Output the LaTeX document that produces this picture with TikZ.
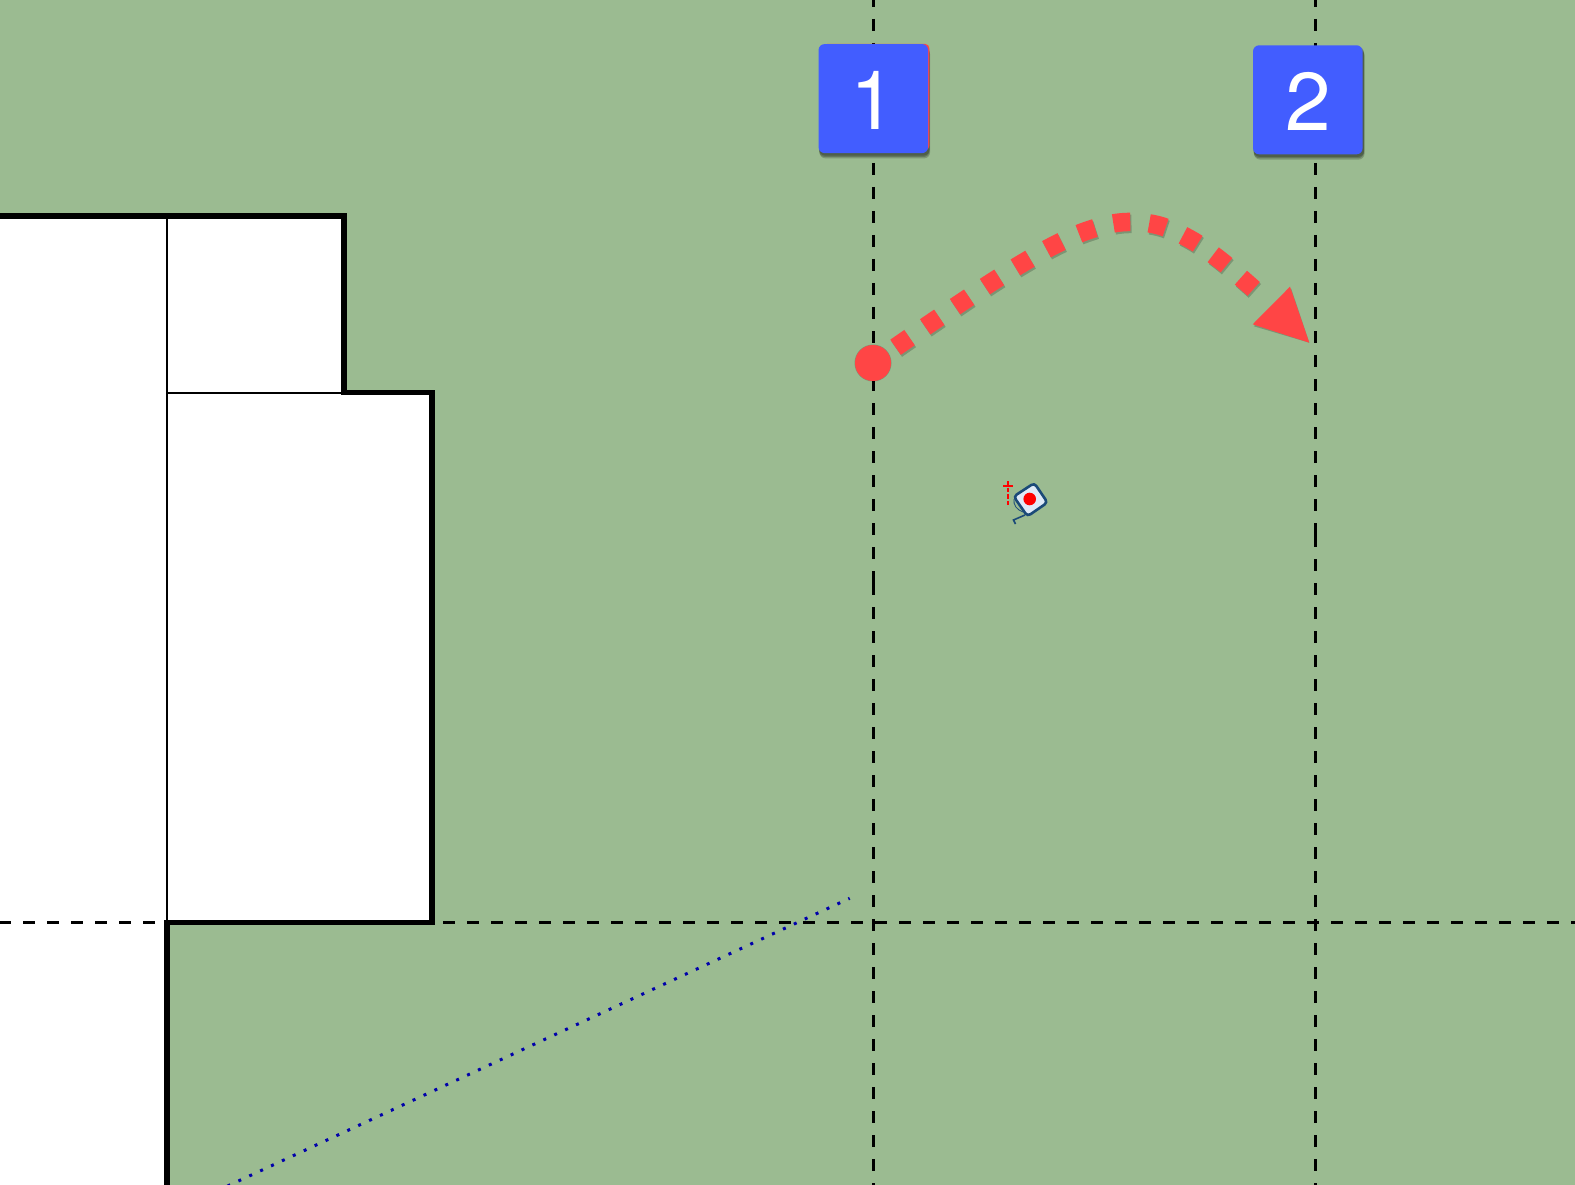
\documentclass[tikz,border=0pt]{standalone}
\usepackage{fontspec}
\setmainfont{TeX Gyre Heros}
\definecolor{lawn}{HTML}{9BBB91}
\definecolor{markred}{HTML}{FF4545}
\definecolor{tagblue}{HTML}{425DFF}
\definecolor{navy}{HTML}{1B4A78}
\definecolor{tapefill}{HTML}{DFEAF8}
\definecolor{dotblue}{HTML}{0000AA}
\tikzset{
  wallthick/.style={line width=5.3pt,line cap=rect},
  wallthin/.style={line width=2.6pt},
  gridline/.style={line width=2.6pt,dash pattern=on 11.7pt off 12.3pt},
  tagbox/.style={fill=tagblue,rounded corners=6pt,minimum width=109.5pt,minimum height=109pt,inner sep=0pt,text=white,font=\fontsize{82}{82}\selectfont},
  tagshadow/.style={fill=black,opacity=.2,rounded corners=6pt,minimum width=110.5pt,minimum height=110pt,inner sep=0pt},
  sweep/.style={line width=18.5pt,dash pattern=on 17pt off 19pt,dash phase=8.5pt},
}
\newcommand{\tagdigit}[1]{\raisebox{-1.5pt}[59pt][0pt]{#1}}
\begin{document}
\begin{tikzpicture}[x=1pt,y=-1pt]
\useasboundingbox (0,0) rectangle (1575,1185);
\clip (0,0) rectangle (1575,1185);
\fill[lawn] (0,0) rectangle (1575,1185);
% building
\fill[white] (0,216) -- (344,216) -- (344,392.5) -- (432,392.5) -- (432,922.7) -- (167,922.7) -- (167,1185) -- (0,1185) -- cycle;
% grid lines
\draw[gridline,dash phase=5pt] (873.5,0) -- (873.5,583);
\draw[gridline] (873.5,583) -- (873.5,1185);
\draw[gridline,dash phase=5pt] (1315.3,0) -- (1315.3,535);
\draw[gridline] (1315.3,535) -- (1315.3,1185);
\draw[gridline,dash phase=1pt] (0,922.7) -- (167,922.7);
\draw[gridline,dash phase=13pt] (432,922.7) -- (1575,922.7);
% walls
\draw[wallthin] (167,216) -- (167,922.7);
\draw[wallthin] (167,392.8) -- (344,392.8);
\draw[wallthick] (0,216) -- (344,216) -- (344,392.5) -- (432,392.5) -- (432,922.7) -- (167,922.7) -- (167,1185);
% blue dotted line
\coordinate (dotA) at (849.7,898.3);
\coordinate (dotB) at (206,1196);
\draw[dotblue,line width=3pt,dash pattern=on 3pt off 9pt,dash phase=1.5pt] (dotA) -- (dotB);
% tags
\node[tagshadow] at (874.3,100.6) {};
\node[tagshadow] at (874.3,102) {};
\node[tagshadow] at (874.8,103.4) {};
\fill[markred,rounded corners=4pt] (823,44) rectangle (929.3,150);
\node[tagbox] (tag1) at (873.3,98.6) {\tagdigit{1}};
\node[tagshadow] at (1308.8,101.8) {};
\node[tagshadow] at (1308.8,103.2) {};
\node[tagshadow] at (1309.3,104.6) {};
\node[tagbox] (tag2) at (1307.8,99.8) {\tagdigit{2}};
% curved arrow
\coordinate (start) at (873,363);
\coordinate (tip) at (1309.3,342.7);
\def\sweeppath{plot[smooth,tension=.6] coordinates {(873,363) (902.7,342.3) (932.3,322) (962,302) (992,282) (1022.7,263) (1054,245.3) (1087,230.7) (1121.7,222.3) (1157.3,225) (1190.3,239.3) (1219.7,259.7) (1247.3,283.3) (1262,296.5)}}
\begin{scope}[shift={(1.2,2)}]
\draw[black,opacity=.2,sweep] \sweeppath;
\fill[black,opacity=.2] (1290,286.7) -- (1252.7,324.3) -- (tip) -- cycle;
\fill[black,opacity=.2] (start) circle (18.5);
\end{scope}
\draw[markred,sweep] \sweeppath;
\fill[markred] (1290,286.7) -- (1252.7,324.3) -- (tip) -- cycle;
\node[circle,fill=markred,minimum size=36pt,inner sep=0pt] (dot) at (start) {};
% tape measure icon
\draw[red,line width=1.8pt] (1003,485.7) -- (1013,485.7);
\draw[red,line width=1.8pt,dash pattern=on 4.5pt off 2pt] (1008,481) -- (1008,507);
\draw[navy,line width=1.6pt] (1025,515) -- (1013.5,520) -- (1015.5,524);
\draw[navy,line width=2.6pt,fill=tapefill,rounded corners=3.5pt] (1034.3,483) -- (1047.5,502.5) -- (1027.5,516.3) -- (1013.7,496.5) -- cycle;
\draw[navy,line width=.8pt] (1014,499) .. controls (1013,505) and (1017,510) .. (1023,512);
\fill[red] (1029.7,499) circle (6.3);
\end{tikzpicture}
\end{document}
